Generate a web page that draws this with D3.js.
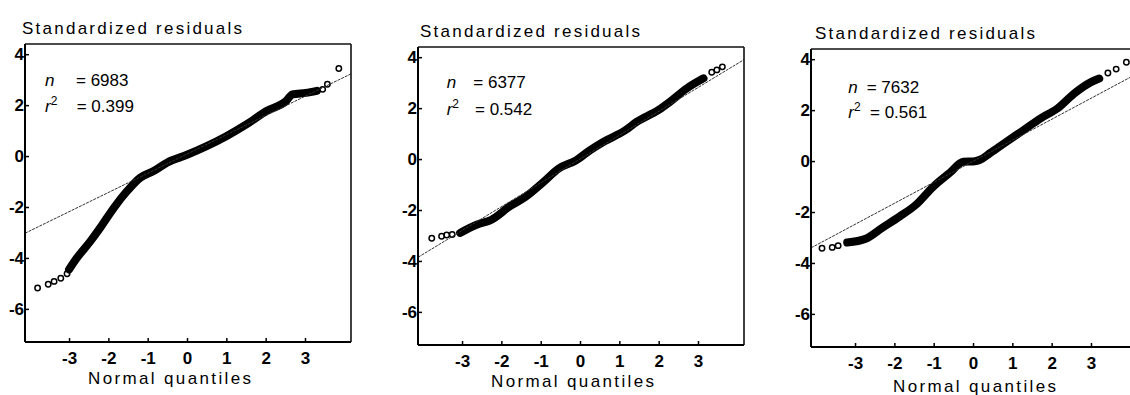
<!DOCTYPE html>
<html>
<head>
<meta charset="utf-8">
<script src="https://cdn.jsdelivr.net/npm/d3@7"></script>
<style>
  html, body { margin: 0; padding: 0; background: #fff; }
  svg { display: block; }
  text { font-family: "Liberation Sans", Arial, Helvetica, sans-serif; fill: #000; }
</style>
</head>
<body>
<svg id="chart" width="1130" height="395"></svg>
<script>
// ---- tick labels and texts ----
const xTicks = [-3, -2, -1, 0, 1, 2, 3];
const yTicks = [4, 2, 0, -2, -4, -6];
const titleText = "Standardized residuals";
const xLabelText = "Normal quantiles";

// ---- per-panel statistics ----
const sampleSizes = [6983, 6377, 7632];
const rSquared = ["0.399", "0.542", "0.561"];

// ---- fitted reference lines (residual = intercept + slope * quantile) ----
const fitSlope = [0.755, 0.936, 0.825];
const fitIntercept = [0.08, 0.0, -0.01];

// ---- dense part of each Q-Q trace: normal quantile vs standardized residual ----
const bandQ1 = [-3.0, -2.8, -2.45, -2.2, -1.86, -1.52, -1.19, -0.85, -0.51, 0.0, 0.5, 1.0, 1.51, 2.01, 2.52, 2.68, 3.02, 3.3];
const bandR1 = [-4.45, -4.0, -3.33, -2.8, -2.03, -1.37, -0.85, -0.59, -0.26, 0.05, 0.39, 0.78, 1.24, 1.76, 2.16, 2.42, 2.48, 2.56];

const bandQ2 = [-3.05, -2.63, -2.25, -1.78, -1.40, -0.93, -0.55, -0.1, 0.25, 0.59, 1.15, 1.44, 1.99, 2.29, 2.72, 3.14];
const bandR2 = [-2.9, -2.58, -2.38, -1.85, -1.50, -0.90, -0.38, -0.05, 0.34, 0.67, 1.13, 1.46, 1.92, 2.25, 2.78, 3.17];

const bandQ3 = [-3.2, -2.73, -2.30, -1.87, -1.44, -1.02, -0.59, -0.25, 0.05, 0.18, 0.44, 0.86, 1.29, 1.72, 2.15, 2.57, 3.0, 3.21];
const bandR3 = [-3.2, -3.05, -2.61, -2.18, -1.70, -1.02, -0.46, -0.03, -0.01, 0.05, 0.32, 0.77, 1.22, 1.68, 2.07, 2.65, 3.10, 3.24];

// ---- sparse tail observations, drawn as open circles ----
const tailQ1 = [-3.80, -3.53, -3.38, -3.21, -3.05, 3.45, 3.57, 3.86];
const tailR1 = [-5.18, -5.03, -4.92, -4.80, -4.62, 2.62, 2.82, 3.44];

const tailQ2 = [-3.77, -3.52, -3.39, -3.25, 3.35, 3.48, 3.62];
const tailR2 = [-3.11, -3.03, -2.98, -2.96, 3.41, 3.50, 3.62];

const tailQ3 = [-3.84, -3.58, -3.43, 3.43, 3.64, 3.90];
const tailR3 = [-3.42, -3.39, -3.32, 3.46, 3.61, 3.88];

const bands = [[bandQ1, bandR1], [bandQ2, bandR2], [bandQ3, bandR3]];
const tails = [[tailQ1, tailR1], [tailQ2, tailR2], [tailQ3, tailR3]];

// ---- layout ----
const plotW = 326, plotH = 298;
const xDomain = [-4.12, 4.17];
const yDomain = [-7.3, 4.4];
const layout = [
  { left: 25,  top: 44, titleDx: -3, annDx: 20,   eq1: 31,   eq2: 31.7, ann1: 42,   ann2: 67.7, labX: 63, labY: 41.5 },
  { left: 418, top: 47, titleDx: 2,  annDx: 28.7, eq1: 26.6, eq2: 28.3, ann1: 41.3, ann2: 68,   labX: 73, labY: 41.7 },
  { left: 811, top: 49, titleDx: 4,  annDx: 37.3, eq1: 18.4, eq2: 21.7, ann1: 44.3, ann2: 69.3, labX: 82, labY: 45 }
];

const svg = d3.select("#chart");
const fmtTick = d => String(d);   // plain hyphen for negatives

layout.forEach((lay, i) => {
  const x = d3.scaleLinear().domain(xDomain).range([0, plotW]);
  const y = d3.scaleLinear().domain(yDomain).range([plotH, 0]);
  const g = svg.append("g").attr("transform", `translate(${lay.left},${lay.top})`);

  const clipId = "clip" + i;
  g.append("clipPath").attr("id", clipId)
    .append("rect").attr("x", 0).attr("y", 0).attr("width", plotW).attr("height", plotH);

  const plot = g.append("g").attr("clip-path", `url(#${clipId})`);

  // dense band of overlapping markers
  const [bq, br] = bands[i];
  const bandPts = bq.map((q, k) => [q, br[k]]);
  plot.append("path")
    .datum(bandPts)
    .attr("d", d3.line().curve(d3.curveMonotoneX).x(d => x(d[0])).y(d => y(d[1])))
    .attr("fill", "none")
    .attr("stroke", "#000")
    .attr("stroke-width", 8)
    .attr("stroke-linejoin", "round")
    .attr("stroke-linecap", "round");

  // isolated tail markers
  const [tq, tr] = tails[i];
  plot.selectAll("circle.tail")
    .data(tq.map((q, k) => [q, tr[k]]))
    .enter().append("circle")
    .attr("class", "tail")
    .attr("cx", d => x(d[0]))
    .attr("cy", d => y(d[1]))
    .attr("r", 2.7)
    .attr("fill", "none")
    .attr("stroke", "#000")
    .attr("stroke-width", 1.5);

  // reference line
  const fit = q => fitIntercept[i] + fitSlope[i] * q;
  plot.append("line")
    .attr("x1", x(xDomain[0])).attr("y1", y(fit(xDomain[0])))
    .attr("x2", x(xDomain[1])).attr("y2", y(fit(xDomain[1])))
    .attr("stroke", "#333")
    .attr("stroke-width", 1)
    .attr("stroke-dasharray", "3,1");

  // axes
  const yAxis = d3.axisLeft(y).tickValues(yTicks).tickSize(-4).tickPadding(1).tickFormat(fmtTick);
  const xAxis = d3.axisBottom(x).tickValues(xTicks).tickSize(-4).tickPadding(10).tickFormat(fmtTick);

  const ya = g.append("g").call(yAxis);
  const xa = g.append("g").attr("transform", `translate(0,${plotH})`).call(xAxis);
  [ya, xa].forEach(a => {
    a.attr("font-family", null).attr("font-size", null);
    a.select(".domain").remove();
    a.selectAll(".tick line").attr("stroke", "#000").attr("stroke-width", 1.5);
    a.selectAll(".tick text")
      .attr("font-family", '"Liberation Sans", Arial, sans-serif')
      .attr("font-size", 17)
      .attr("font-weight", "bold")
      .attr("fill", "#000");
  });

  // frame: heavier left/bottom, lighter top/right
  g.append("line").attr("x1", 0).attr("y1", 0).attr("x2", 0).attr("y2", plotH)
    .attr("stroke", "#000").attr("stroke-width", 2);
  g.append("line").attr("x1", 0).attr("y1", plotH).attr("x2", plotW).attr("y2", plotH)
    .attr("stroke", "#000").attr("stroke-width", 2);
  g.append("line").attr("x1", 0).attr("y1", 0).attr("x2", plotW).attr("y2", 0)
    .attr("stroke", "#111").attr("stroke-width", 1.6);
  g.append("line").attr("x1", plotW).attr("y1", 0).attr("x2", plotW).attr("y2", plotH)
    .attr("stroke", "#111").attr("stroke-width", 1.6);

  // title above the frame
  g.append("text")
    .attr("x", lay.titleDx).attr("y", -10)
    .attr("textLength", 220).attr("lengthAdjust", "spacing")
    .style("font-size", "17px")
    .text(titleText);

  // x-axis label
  g.append("text")
    .attr("x", lay.labX).attr("y", plotH + lay.labY)
    .attr("textLength", 163).attr("lengthAdjust", "spacing")
    .style("font-size", "17px")
    .text(xLabelText);

  // sample size and r-squared annotation
  const ax = lay.annDx;
  g.append("text").attr("x", ax).attr("y", lay.ann1)
    .style("font-size", "17px").style("font-style", "italic").text("n");
  g.append("text").attr("x", ax + lay.eq1).attr("y", lay.ann1)
    .style("font-size", "17px").text("= " + sampleSizes[i]);

  const r2 = g.append("text").attr("x", ax).attr("y", lay.ann2).style("font-size", "17px");
  r2.append("tspan").style("font-style", "italic").text("r");
  r2.append("tspan").attr("dy", -7).style("font-size", "12px").text("2");
  g.append("text").attr("x", ax + lay.eq2).attr("y", lay.ann2)
    .style("font-size", "17px").text("= " + rSquared[i]);
});
</script>
</body>
</html>
